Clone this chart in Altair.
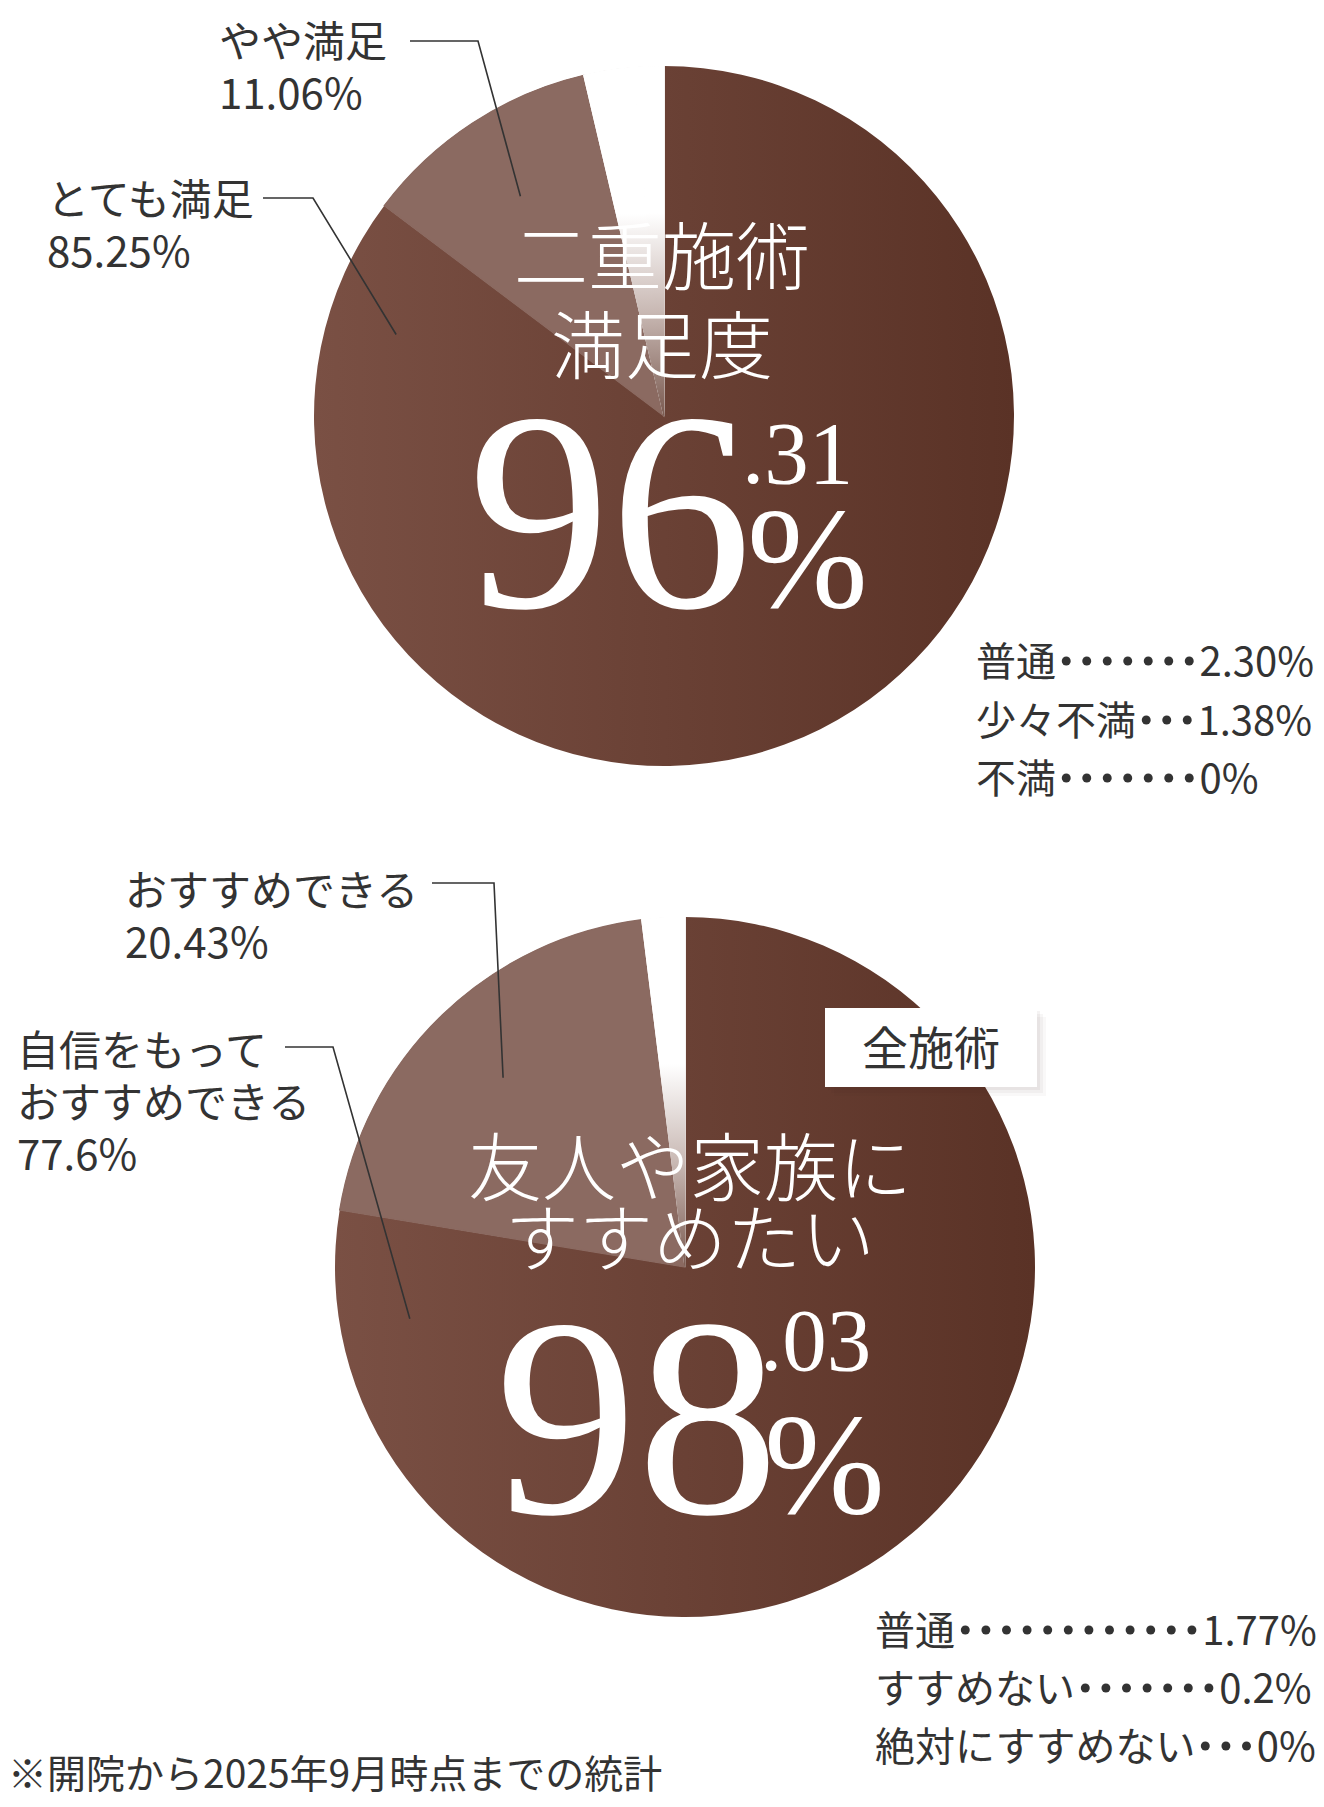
import math
from decimal import Decimal
import altair as alt
import pandas as pd

# ---------------- data ----------------
sat_labels = ["とても満足", "やや満足", "普通", "少々不満", "不満"]
sat_pct = ["85.25", "11.06", "2.30", "1.38", "0"]
sat_title = ["二重施術", "満足度"]

rec_labels = ["自信をもって\nおすすめできる", "おすすめできる", "普通", "すすめない", "絶対にすすめない"]
rec_pct = ["77.6", "20.43", "1.77", "0.2", "0"]
rec_title = ["友人や家族に", "すすめたい"]
rec_tag = "全施術"

footnote = "※開院から2025年9月時点までの統計"

# ---------------- layout (page pixel coordinates) ----------------
W, H = 1308, 1791
OFF = 8
SANS = "Noto Sans CJK JP"
SERIF = "Liberation Serif"
INK = "#333333"
LIGHT = "#8b6a61"
DARK_L, DARK_R = "#7a5044", "#5a3226"

PIES = {
    "sat": dict(cx=664, cy=416, r=350),
    "rec": dict(cx=685, cy=1267, r=350),
}
# callouts: (slice index, text x, first line centre y, bend x0, bend x1, bend y)
CALLOUTS = {
    "sat": [(0, 47, 199, 263, 313, 198), (1, 219, 41, 410, 478, 41)],
    "rec": [(0, 17, 1050, 285, 333, 1047), (1, 125, 890, 432, 494, 883)],
}
LABEL_SIZE, LABEL_PITCH = 42, 52
TITLES = {"sat": (662, [256, 345]), "rec": (690, [1167, 1238])}
TITLE_SIZE = 74
HEAD = {
    "sat": dict(ix=468, iy=607, isz=284, dx=742, dy=483, dsz=89, px=747, py=607, psz=145),
    "rec": dict(ix=495, iy=1513, isz=284, dx=760, dy=1370, dsz=89, px=764, py=1513, psz=145),
}
# legend: (x, row centre ys, dots per row, dot pitch)
LEGEND = {"sat": (976, [661, 720, 778], [7, 3, 7], 20.5),
          "rec": (875, [1630, 1688, 1746], [12, 7, 3], 20.6)}
LEGEND_SIZE = 40
DOT_AREA = 80
TAG_BOX = (825, 1008, 1037, 1087)
TAG_SIZE = 46
FOOT = (8, 1773, 39)

XS = alt.Scale(domain=[OFF, OFF + W], nice=False, zero=False)
YS = alt.Scale(domain=[OFF, OFF + H], nice=False, zero=False, reverse=True)


def XE(f="x"):
    return alt.X(f"{f}:Q", scale=XS, axis=None)


def YE(f="y"):
    return alt.Y(f"{f}:Q", scale=YS, axis=None)


def mid(y, size):
    # vega 'middle' baseline sits a little high for CJK glyphs
    return y + 0.08 * size


def text_layer(rows, **mark):
    df = pd.DataFrame(rows, columns=["x", "y", "t"])
    return alt.Chart(df).mark_text(**mark).encode(x=XE(), y=YE(), text=alt.Text("t:N"))


def angles(vals):
    tot = sum(vals)
    out, c = [], 0.0
    for v in vals:
        out.append((c / tot * 360, (c + v) / tot * 360))
        c += v
    return out


def polar(p, deg, frac):
    a = math.radians(deg)
    return p["cx"] + frac * p["r"] * math.sin(a), p["cy"] - frac * p["r"] * math.cos(a)


grad = alt.LinearGradient(
    gradient="linear",
    stops=[alt.GradientStop(color=DARK_L, offset=0), alt.GradientStop(color=DARK_R, offset=1)],
    x1=0, x2=1, y1=0, y2=0,
)
# white gap fading into a soft shadow towards the centre
gap_grad = alt.LinearGradient(
    gradient="linear",
    stops=[alt.GradientStop(color="#ffffff", offset=0),
           alt.GradientStop(color="#ffffff", offset=0.42),
           alt.GradientStop(color="#c9b9b4", offset=0.7),
           alt.GradientStop(color="#7a5a50", offset=1)],
    x1=0, x2=0, y1=0, y2=1,
)
fill_scale = alt.Scale(domain=["big", "light", "rest"], range=["transparent", LIGHT, "#ffffff"])
is_rest = alt.datum.fillkey == "rest"

pie_layers = []
num_layers = []
leader_rows = []
label_rows = []
title_rows = []
leg_cat_rows, leg_val_rows, dot_rows = [], [], []

for key, labels, pcts, title in [("sat", sat_labels, sat_pct, sat_title),
                                 ("rec", rec_labels, rec_pct, rec_title)]:
    p = PIES[key]
    vals = [float(v) for v in pcts]
    df = pd.DataFrame({
        "cat": labels,
        "v": vals,
        "i": list(range(len(vals))),
        "fillkey": ["big", "light"] + ["rest"] * (len(vals) - 2),
    })
    base = alt.Chart(df).encode(
        theta=alt.Theta("v:Q", stack=True),
        order=alt.Order("i:Q", sort="ascending"),
        x=alt.value(p["cx"] - OFF), y=alt.value(p["cy"] - OFF),
    )
    pie_layers.append(base.mark_arc(radius=p["r"], fill=grad))
    pie_layers.append(base.mark_arc(radius=p["r"], strokeWidth=1.2).encode(
        color=alt.Color("fillkey:N", legend=None, scale=fill_scale),
        stroke=alt.Stroke("fillkey:N", legend=None, scale=fill_scale)))
    pie_layers.append(base.mark_arc(radius=p["r"], fill=gap_grad, stroke=gap_grad, strokeWidth=1.2).encode(
        fillOpacity=alt.condition(is_rest, alt.value(1), alt.value(0)),
        strokeOpacity=alt.condition(is_rest, alt.value(1), alt.value(0))))

    ang = angles(vals)
    for (idx, tx, ty, bx0, bx1, by) in CALLOUTS[key]:
        lines = labels[idx].split("\n") + [pcts[idx] + "%"]
        for k, ln in enumerate(lines):
            label_rows.append((tx, mid(ty + k * LABEL_PITCH, LABEL_SIZE), ln))
        if idx == 0:
            ex, ey = polar(p, ang[0][1] - 20, 0.8)
        else:
            ex, ey = polar(p, (ang[idx][0] + ang[idx][1]) / 2, 0.75)
        lid = f"{key}{idx}"
        for s, (lx, ly) in enumerate([(bx0, by), (bx1, by), (ex, ey)]):
            leader_rows.append((lid, s, lx, ly))

    tx, tys = TITLES[key]
    for ln, ty in zip(title, tys):
        title_rows.append((tx, mid(ty, TITLE_SIZE), ln))

    lx, lys, dots, pitch = LEGEND[key]
    for j, (ly, nd) in enumerate(zip(lys, dots)):
        cat = labels[2 + j]
        cat_end = lx + len(cat) * LEGEND_SIZE
        leg_cat_rows.append((lx, mid(ly, LEGEND_SIZE), cat))
        for d in range(nd):
            dot_rows.append((cat_end + pitch * (d + 0.5), ly))
        leg_val_rows.append((cat_end + pitch * nd, mid(ly, LEGEND_SIZE), pcts[2 + j] + "%"))

    head = Decimal(pcts[0]) + Decimal(pcts[1])
    ipart, dpart = f"{head:.2f}".split(".")
    h = HEAD[key]
    num_layers.append(text_layer([(h["ix"], h["iy"], ipart)], font=SERIF, fontSize=h["isz"], color="white",
                                 align="left", baseline="alphabetic"))
    num_layers.append(text_layer([(h["dx"], h["dy"], "." + dpart)], font=SERIF, fontSize=h["dsz"], color="white",
                                 align="left", baseline="alphabetic"))
    num_layers.append(text_layer([(h["px"], h["py"], "%")], font=SERIF, fontSize=h["psz"], color="white",
                                 align="left", baseline="alphabetic"))

# leader lines
ldf = pd.DataFrame(leader_rows, columns=["id", "s", "x", "y"])
leaders = alt.Chart(ldf).mark_line(color=INK, strokeWidth=1.6).encode(
    x=XE(), y=YE(), order=alt.Order("s:Q"), detail="id:N")

# tag box with a soft shadow
bx0, by0, bx1, by1 = TAG_BOX
shadow_rows = [(bx0 + o, by0 + o, bx1 + o, by1 + o, op) for o, op in [(9, 0.03), (6, 0.04), (3, 0.05)]]
shadow = alt.Chart(pd.DataFrame(shadow_rows, columns=["x", "y", "x2", "y2", "op"])).mark_rect(
    color="#3a1d15").encode(x=XE(), y=YE(), x2="x2:Q", y2="y2:Q", opacity=alt.Opacity("op:Q", scale=None))
box = alt.Chart(pd.DataFrame([(bx0, by0, bx1, by1)], columns=["x", "y", "x2", "y2"])).mark_rect(
    color="#ffffff").encode(x=XE(), y=YE(), x2="x2:Q", y2="y2:Q")
tag = text_layer([((bx0 + bx1) / 2, mid((by0 + by1) / 2, TAG_SIZE), rec_tag)], font=SANS, fontSize=TAG_SIZE,
                 color=INK, align="center", baseline="middle")

titles = text_layer(title_rows, font=SANS, fontSize=TITLE_SIZE, fontWeight=300, color="white",
                    align="center", baseline="middle")

labels_layer = text_layer(label_rows, font=SANS, fontSize=LABEL_SIZE, color=INK, align="left", baseline="middle")
leg_cat = text_layer(leg_cat_rows, font=SANS, fontSize=LEGEND_SIZE, color=INK, align="left", baseline="middle")
leg_val = text_layer(leg_val_rows, font=SANS, fontSize=LEGEND_SIZE, color=INK, align="left", baseline="middle")
dots = alt.Chart(pd.DataFrame(dot_rows, columns=["x", "y"])).mark_circle(
    color=INK, opacity=1, size=DOT_AREA).encode(x=XE(), y=YE())
fx, fy, fs = FOOT
foot = text_layer([(fx, mid(fy, fs), footnote)], font=SANS, fontSize=fs, color=INK, align="left", baseline="middle")

chart = alt.layer(
    *pie_layers, leaders, shadow, box, tag, titles, *num_layers,
    labels_layer, leg_cat, dots, leg_val, foot
).properties(
    width=W, height=H, padding=0, background="white", autosize=alt.AutoSizeParams(type="none")
).resolve_scale(theta="independent").configure_view(stroke=None)

chart.save("out.html", embed_options={"renderer": "svg", "actions": False})
